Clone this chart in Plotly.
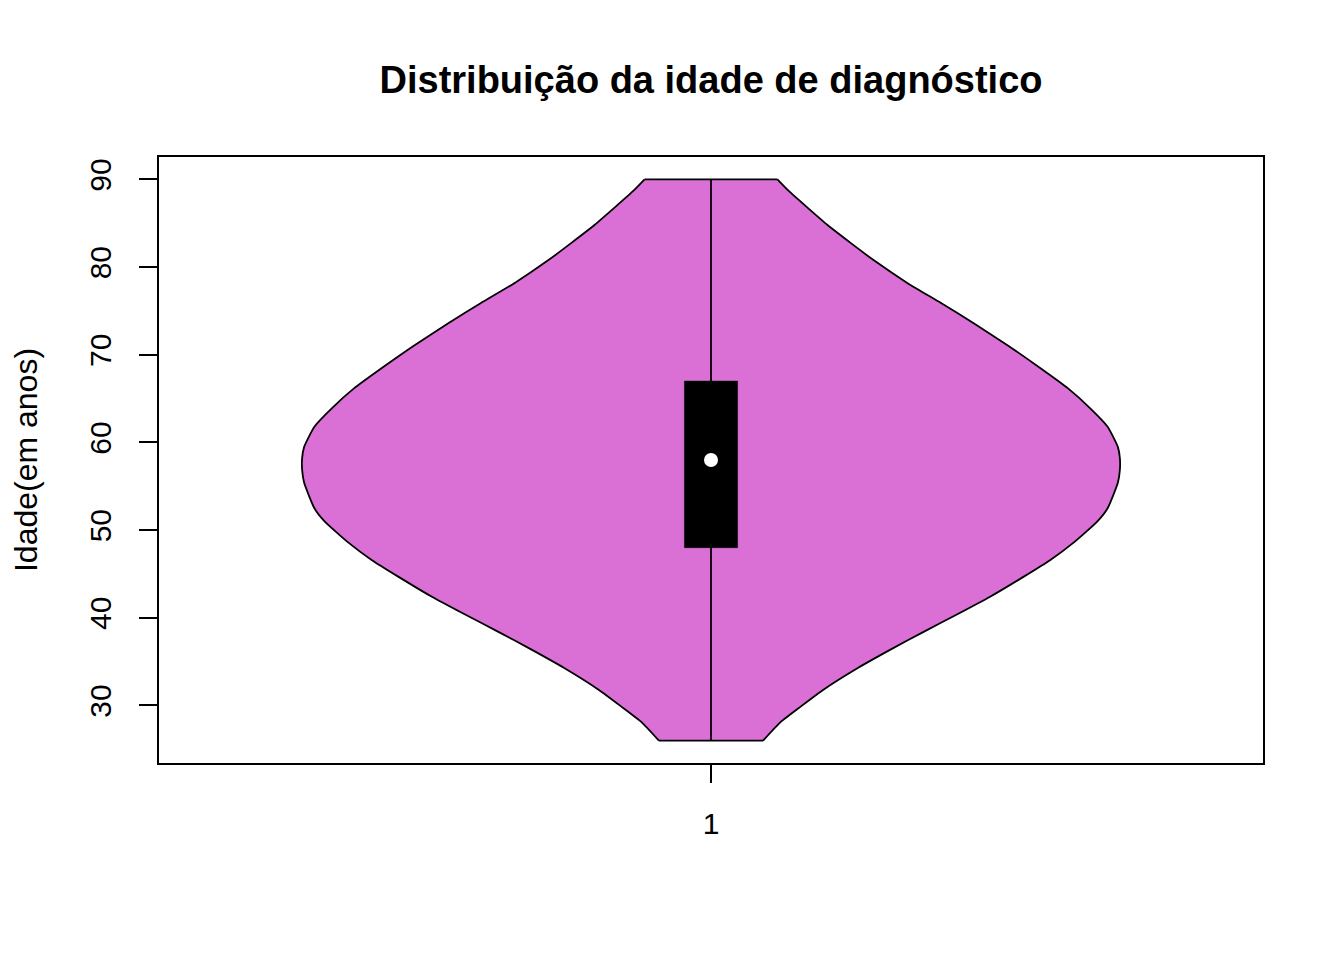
import plotly.graph_objects as go

# outline of the violin: age (years) and half-width of the density shape
ages = [26, 28.1, 29.9, 31.8, 34.3, 36.4, 38.4, 40.4, 42.4, 44.7, 46.6, 48.6,
        51.0, 52.5, 55.4, 56.9, 58.2, 59.5, 61.8, 63.9, 66.2, 68.5, 71.1,
        73.6, 75.9, 78.2, 80.8, 84.8, 88.8, 90]
half_width = [0.051, 0.068, 0.088, 0.110, 0.144, 0.176, 0.208, 0.241, 0.273,
              0.306, 0.332, 0.355, 0.378, 0.388, 0.398, 0.400, 0.400, 0.398,
              0.388, 0.371, 0.349, 0.322, 0.290, 0.257, 0.225, 0.192, 0.159,
              0.114, 0.075, 0.065]

# summary stats
age_min, age_max = 26, 90
q1, q3 = 48, 67
median = 58
group = 1
box_half = 0.026

left_x = [group - w for w in half_width]
right_x = [group + w for w in half_width]

fig = go.Figure()

# violin fill
fig.add_trace(go.Scatter(
    x=left_x + right_x[::-1] + [left_x[0]], y=ages + ages[::-1] + [ages[0]],
    mode="lines", fill="toself", fillcolor="orchid",
    line=dict(color="orchid", width=0),
    hoverinfo="skip"
))

# violin outline: curved sides, flat ends
for side in (left_x, right_x):
    fig.add_trace(go.Scatter(
        x=side, y=ages, mode="lines",
        line=dict(color="black", width=1.8, shape="spline", smoothing=0.5),
        hoverinfo="skip"
    ))
for i in (0, -1):
    fig.add_trace(go.Scatter(
        x=[left_x[i], right_x[i]], y=[ages[i], ages[i]], mode="lines",
        line=dict(color="black", width=1.8), hoverinfo="skip"
    ))

# whisker
fig.add_trace(go.Scatter(
    x=[group, group], y=[age_min, age_max], mode="lines",
    line=dict(color="black", width=1.8), hoverinfo="skip"
))

# box (q1 to q3)
fig.add_trace(go.Scatter(
    x=[group - box_half, group + box_half, group + box_half, group - box_half, group - box_half],
    y=[q1, q1, q3, q3, q1], mode="lines", fill="toself", fillcolor="black",
    line=dict(color="black", width=0.5), hoverinfo="skip"
))

# median
fig.add_trace(go.Scatter(
    x=[group], y=[median], mode="markers",
    marker=dict(color="white", size=14, line=dict(width=0))
))

fig.update_layout(
    width=1336, height=952,
    margin=dict(l=149, r=81, t=149, b=197),
    paper_bgcolor="white", plot_bgcolor="white",
    showlegend=False,
    font=dict(family="Liberation Sans, Arial, sans-serif", size=30, color="black"),
    title=dict(
        text="<b>Distribuição da idade de diagnóstico</b>",
        x=0.5, xref="paper", y=1 - 72 / 952, yref="container",
        xanchor="center", yanchor="middle",
        font=dict(size=38, color="black")
    ),
    xaxis=dict(
        range=[0.46, 1.54], tickvals=[1], ticktext=["1"],
        ticks="outside", ticklen=18, tickwidth=1.8, tickcolor="black",
        showgrid=False, zeroline=False,
        showline=True, mirror=True, linecolor="black", linewidth=1.8,
        ticklabelstandoff=15
    ),
    yaxis=dict(
        range=[23.44, 92.56], tickvals=[30, 40, 50, 60, 70, 80, 90],
        tickangle=-90,
        ticks="outside", ticklen=18, tickwidth=1.8, tickcolor="black",
        showgrid=False, zeroline=False,
        showline=True, mirror=True, linecolor="black", linewidth=1.8,
        ticklabelstandoff=16,
        title=dict(text="Idade(em anos)", standoff=42, font=dict(size=32))
    ),
)

fig.write_html("out.html")
